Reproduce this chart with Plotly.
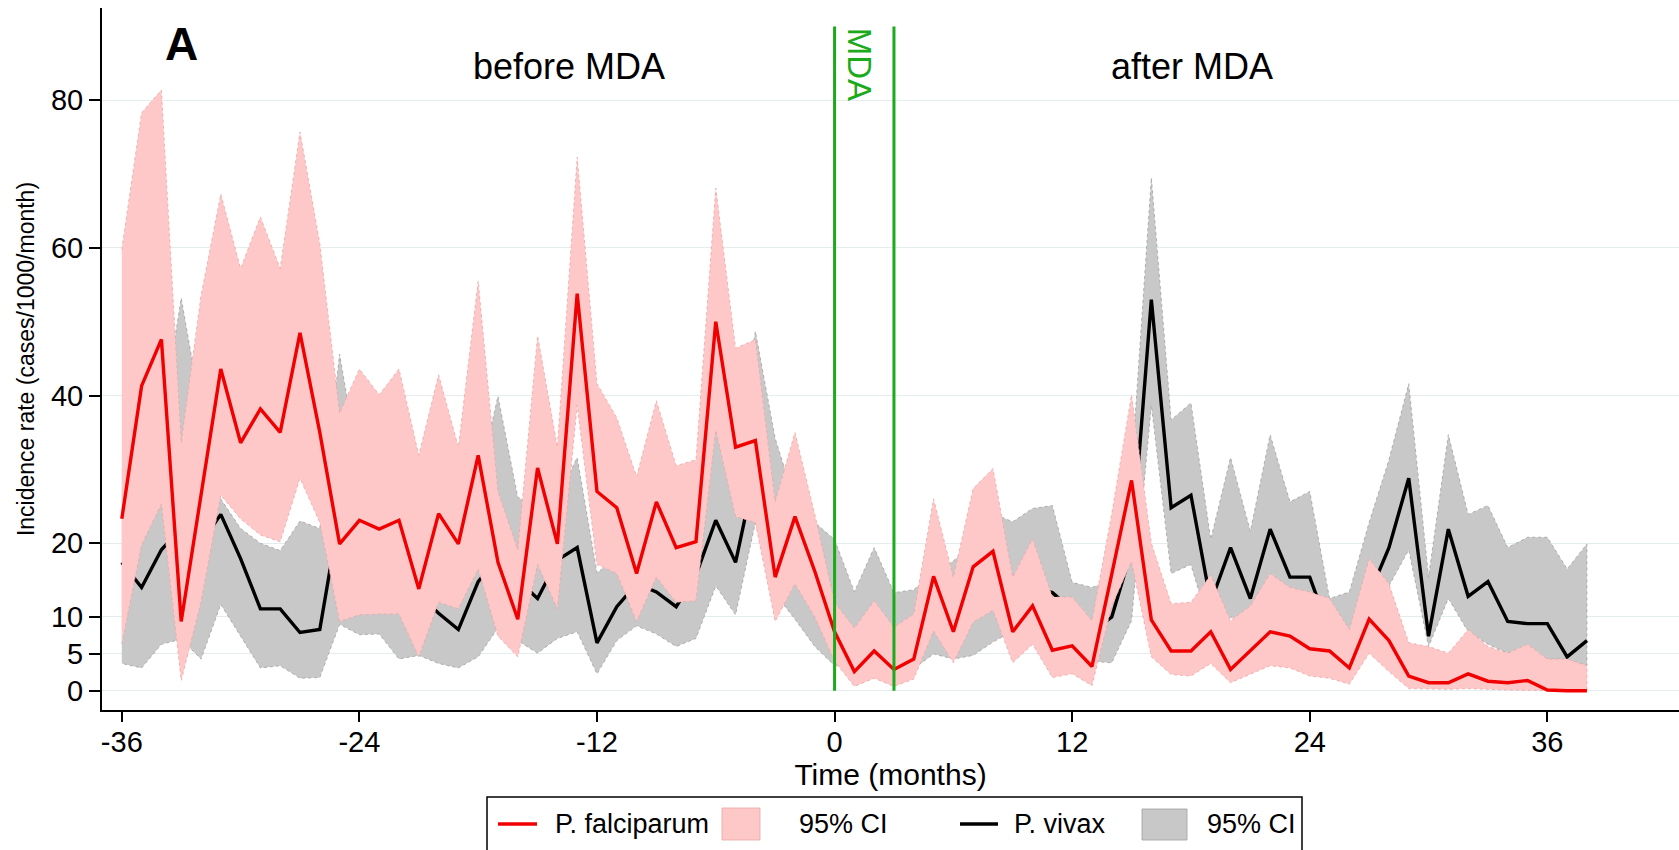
import plotly.graph_objects as go

# ---------------- data ----------------
months = list(range(-36, 39))

pf_rate = [23.3, 41.3, 47.6, 9.4, 26.5, 43.6, 33.6, 38.2, 35.0, 48.5, 35.0, 19.9,
           23.1, 21.9, 23.1, 13.8, 24.0, 19.9, 31.9, 17.4, 9.7, 30.2, 19.9, 53.8,
           27.0, 24.8, 15.9, 25.6, 19.4, 20.2, 50.0, 33.0, 33.9, 15.4, 23.6, 16.2,
           8.0, 2.6, 5.4, 2.9, 4.3, 15.5, 8.0, 16.8, 18.9, 8.0, 11.5, 5.5,
           6.1, 3.3, 15.8, 28.5, 9.6, 5.4, 5.4, 8.0, 2.9, 5.4, 8.0, 7.4,
           5.7, 5.4, 3.1, 9.7, 6.8, 2.0, 1.1, 1.1, 2.3, 1.3, 1.1, 1.4,
           0.1, 0.0, 0.0]
pf_upper = [59.8, 78.3, 81.4, 33.6, 53.5, 67.3, 57.2, 64.2, 57.2, 75.7, 60.6, 37.6,
            43.6, 40.1, 43.6, 31.9, 42.8, 33.0, 55.5, 27.0, 19.1, 48.1, 33.0, 72.3,
            41.6, 37.0, 29.0, 39.3, 30.5, 31.3, 68.1, 46.4, 47.6, 25.6, 35.0, 23.9,
            12.0, 8.5, 12.2, 8.6, 10.4, 26.0, 15.4, 27.4, 30.1, 15.4, 20.6, 12.7,
            12.7, 9.5, 24.0, 40.1, 20.0, 11.8, 12.0, 15.7, 9.5, 11.5, 15.9, 14.0,
            13.4, 12.5, 8.3, 17.9, 14.5, 6.5, 6.0, 5.1, 8.3, 6.0, 5.1, 6.3,
            4.3, 4.3, 3.4]
pf_lower = [6.3, 19.8, 25.3, 1.4, 12.0, 26.5, 23.3, 21.1, 20.2, 28.8, 22.8, 9.4,
            10.3, 10.4, 10.4, 4.6, 12.0, 11.1, 16.5, 7.4, 4.6, 17.1, 11.1, 38.7,
            17.1, 15.9, 9.4, 15.4, 12.0, 12.2, 35.3, 23.6, 22.8, 9.4, 14.5, 10.0,
            4.0, 0.6, 1.7, 0.6, 1.6, 8.1, 3.8, 9.3, 10.9, 3.8, 6.3, 1.8,
            2.3, 0.7, 11.5, 17.5, 4.6, 2.2, 2.0, 3.7, 1.1, 2.3, 3.4, 3.1,
            2.0, 1.7, 0.9, 5.1, 2.6, 0.3, 0.2, 0.2, 0.3, 0.2, 0.1, 0.1,
            0.0, 0.0, 0.0]

pv_rate = [17.4, 14.0, 19.1, 22.0, 20.0, 23.9, 17.9, 11.1, 11.1, 7.9, 8.3, 24.0,
           18.0, 14.0, 12.0, 13.0, 10.5, 8.3, 14.8, 18.0, 15.0, 12.5, 17.7, 19.4,
           6.5, 11.4, 14.5, 13.4, 11.4, 15.7, 23.1, 17.4, 30.0, 20.0, 15.0, 12.0,
           9.0, 7.0, 9.0, 7.0, 8.0, 10.0, 12.0, 12.0, 13.0, 12.0, 14.0, 13.3,
           11.0, 8.0, 10.0, 19.0, 53.0, 24.8, 26.5, 12.0, 19.4, 12.5, 21.9, 15.4,
           15.4, 8.0, 7.0, 13.0, 19.4, 28.8, 7.4, 21.9, 12.8, 14.8, 9.4, 9.1,
           9.1, 4.6, 6.8]
pv_upper = [30.0, 28.0, 36.0, 53.2, 38.0, 26.0, 22.0, 20.0, 19.0, 23.0, 22.0, 45.6,
            30.0, 25.0, 22.0, 22.0, 20.0, 18.0, 28.0, 39.9, 26.2, 25.0, 26.0, 31.6,
            16.0, 18.0, 22.0, 20.0, 19.0, 22.0, 38.0, 30.0, 48.7, 34.2, 25.6, 22.8,
            20.5, 13.4, 19.4, 13.3, 13.7, 16.0, 17.6, 20.0, 24.0, 22.9, 24.7, 25.1,
            14.7, 14.0, 15.0, 30.0, 69.5, 36.7, 39.0, 20.5, 31.6, 21.6, 34.7, 25.6,
            27.0, 12.5, 13.4, 22.8, 31.3, 41.6, 15.4, 34.7, 23.9, 25.1, 19.4, 20.8,
            20.8, 16.5, 19.9]
pv_lower = [3.7, 3.1, 6.3, 7.0, 4.3, 11.7, 7.4, 3.1, 3.4, 1.7, 1.8, 9.0,
            7.6, 7.7, 4.3, 4.8, 3.7, 3.1, 4.6, 8.5, 6.8, 5.1, 7.1, 8.0,
            2.3, 6.8, 8.8, 7.7, 6.0, 7.1, 14.2, 10.3, 22.8, 13.1, 9.7, 6.0,
            3.4, 3.0, 4.0, 3.0, 3.0, 5.0, 4.3, 4.8, 6.6, 8.1, 8.0, 9.0,
            6.0, 4.0, 3.8, 9.5, 38.7, 15.9, 17.1, 8.0, 10.0, 9.0, 12.0, 10.0,
            9.0, 4.0, 4.0, 7.0, 14.2, 19.1, 6.0, 12.5, 8.0, 6.3, 5.1, 6.0,
            4.3, 4.3, 3.4]

mda_months = [0, 3]
x_ticks = [-36, -24, -12, 0, 12, 24, 36]
x_tick_labels = ["-36", "-24", "-12", "0", "12", "24", "36"]
y_ticks = [0, 5, 10, 20, 40, 60, 80]
legend_labels = ["P. falciparum", "95% CI", "P. vivax", "95% CI"]

# ---------------- style ----------------
FONT = "Liberation Sans, Arial, sans-serif"
RED = "#f00000"
PINK = "#ffc8c8"
GREY = "#c8c8c8"
GREEN = "#1aaa1a"
W, H = 1679, 850
ML, MR, MT, MB = 102, 0, 8, 140
PW, PH = W - ML - MR, H - MT - MB


def px(xp):
    return (xp - ML) / PW


def py(yp):
    return (H - MB - yp) / PH


def band(lo, hi):
    return months + months[::-1], hi + lo[::-1]


fig = go.Figure()

bx, by = band(pv_lower, pv_upper)
fig.add_trace(go.Scatter(x=bx, y=by, fill="toself", fillcolor=GREY, mode="lines",
                         line=dict(color="#a0a0a0", width=0.8, dash="dot"),
                         name=legend_labels[3], hoverinfo="skip"))
fig.add_trace(go.Scatter(x=months, y=pv_rate, mode="lines",
                         line=dict(color="black", width=3.4),
                         name=legend_labels[2]))
bx, by = band(pf_lower, pf_upper)
fig.add_trace(go.Scatter(x=bx, y=by, fill="toself", fillcolor=PINK, mode="lines",
                         line=dict(color="#eaa4a4", width=0.8, dash="dot"),
                         name=legend_labels[1], hoverinfo="skip"))
fig.add_trace(go.Scatter(x=months, y=pf_rate, mode="lines",
                         line=dict(color=RED, width=3.4),
                         name=legend_labels[0]))

for m in mda_months:
    fig.add_shape(type="line", xref="x", yref="y", x0=m, x1=m, y0=0, y1=90,
                  line=dict(color=GREEN, width=3))

fig.add_annotation(x=-33, y=87.6, text="<b>A</b>", showarrow=False,
                   font=dict(family=FONT, size=46, color="black"))
fig.add_annotation(x=-13.4, y=84.6, text="before MDA", showarrow=False,
                   font=dict(family=FONT, size=36, color="black"))
fig.add_annotation(x=18.05, y=84.6, text="after MDA", showarrow=False,
                   font=dict(family=FONT, size=36, color="black"))
fig.add_annotation(x=1.3, y=84.9, text="MDA", textangle=90, showarrow=False,
                   font=dict(family=FONT, size=33, color=GREEN))

# ---- legend (boxed key below the axis) ----
fig.add_shape(type="rect", xref="paper", yref="paper",
              x0=px(487), x1=px(1302), y0=py(797), y1=py(860),
              line=dict(color="black", width=1.5), fillcolor="white", layer="above")
LY = 824
fig.add_shape(type="line", xref="paper", yref="paper", x0=px(498), x1=px(537),
              y0=py(LY), y1=py(LY), line=dict(color=RED, width=3.4))
fig.add_shape(type="rect", xref="paper", yref="paper", x0=px(722), x1=px(760),
              y0=py(808), y1=py(840), line=dict(color="#eaa4a4", width=0.8),
              fillcolor=PINK)
fig.add_shape(type="line", xref="paper", yref="paper", x0=px(960), x1=px(998),
              y0=py(LY), y1=py(LY), line=dict(color="black", width=3.4))
fig.add_shape(type="rect", xref="paper", yref="paper", x0=px(1142), x1=px(1187),
              y0=py(809), y1=py(840), line=dict(color="#a0a0a0", width=0.8),
              fillcolor=GREY)
for lab, xl in zip(legend_labels, [553, 797, 1012, 1205]):
    fig.add_annotation(xref="paper", yref="paper", x=px(xl), y=py(LY),
                       xanchor="left", yanchor="middle", text=lab, showarrow=False,
                       font=dict(family=FONT, size=27, color="black"))

fig.update_layout(
    width=W, height=H,
    margin=dict(l=ML, r=MR, t=MT, b=MB, autoexpand=False),
    paper_bgcolor="white", plot_bgcolor="white",
    font=dict(family=FONT, color="black"),
    showlegend=False,
    xaxis=dict(range=[-37, 42.65], tickvals=x_ticks, ticktext=x_tick_labels,
               showgrid=False, zeroline=False,
               showline=True, linecolor="black", linewidth=2, automargin=False,
               ticks="outside", ticklen=10, tickwidth=1.5, tickcolor="black",
               tickfont=dict(size=29), ticklabelstandoff=-5,
               title=dict(text="Time (months)", font=dict(size=30), standoff=0)),
    yaxis=dict(range=[-2.6, 92.5], tickvals=y_ticks, showgrid=True,
               gridcolor="#e4ecee", gridwidth=1.2, zeroline=False,
               showline=True, linecolor="black", linewidth=2, automargin=False,
               ticks="outside", ticklen=11, tickwidth=1.5, tickcolor="black",
               tickfont=dict(size=29),
               title=dict(text="Incidence rate (cases/1000/month)",
                          font=dict(size=23), standoff=10)),
)

fig.write_html(
    "out.html",
    config={"displayModeBar": False},
    post_script="document.body.style.margin='0px';document.body.style.overflow='hidden';",
)
